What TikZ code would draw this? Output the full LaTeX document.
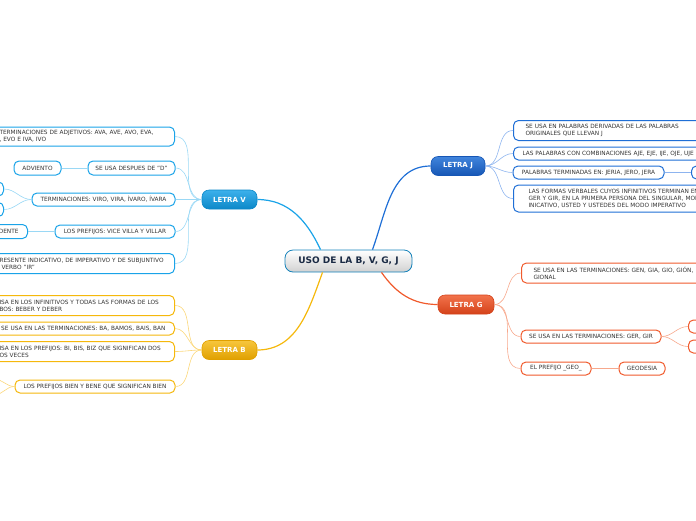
\documentclass[tikz,border=0pt]{standalone}
\usepackage{fontspec}
\setmainfont{DejaVu Sans}
\usetikzlibrary{positioning}
\definecolor{azulV}{HTML}{1AA3E8}
\definecolor{azulVd}{HTML}{0C88C8}
\definecolor{ramaVc}{HTML}{9AD8F5}
\definecolor{azulJ}{HTML}{1F6FD6}
\definecolor{azulJd}{HTML}{1656B5}
\definecolor{ramaJc}{HTML}{8DB4EF}
\definecolor{rojoG}{HTML}{F05A2C}
\definecolor{rojoGd}{HTML}{D4421A}
\definecolor{ramaGc}{HTML}{F7A88C}
\definecolor{oroB}{HTML}{F5B80C}
\definecolor{oroBd}{HTML}{E0A000}
\definecolor{ramaBc}{HTML}{FBD77A}
\definecolor{texto}{HTML}{333333}
\definecolor{tinta}{HTML}{1A2A44}
\tikzset{
  hoja/.style={draw, rounded corners=5pt, line width=1pt, fill=white, text=texto,
    font=\fontsize{5.8}{7}\selectfont, inner xsep=8pt, inner ysep=2pt, align=left},
  hojaV/.style={hoja, draw=azulV},
  hojaJ/.style={hoja, draw=azulJ},
  hojaG/.style={hoja, draw=rojoG},
  hojaB/.style={hoja, draw=oroB},
  letra/.style={rounded corners=7pt, text=white, font=\bfseries\fontsize{7}{8}\selectfont,
    minimum height=19pt, line width=0.6pt},
  ramaV/.style={draw=ramaVc, line width=0.6pt},
  ramaJ/.style={draw=ramaJc, line width=0.6pt},
  ramaG/.style={draw=ramaGc, line width=0.6pt},
  ramaB/.style={draw=ramaBc, line width=0.6pt},
}
\begin{document}
\begin{tikzpicture}[x=1pt,y=-1pt]
\useasboundingbox (0,0) rectangle (696,520);
\clip (0,0) rectangle (696,520);

\node[draw=azulV!80!black, line width=0.8pt, rounded corners=8pt, top color=white, bottom color=black!18,
  text=tinta, font=\bfseries\fontsize{9}{10}\selectfont, minimum width=127pt, minimum height=22pt]
  (centro) at (348.5,261) {USO DE LA B, V, G, J};

\node[letra, draw=azulVd, top color=azulV!85!white, bottom color=azulVd, minimum width=55pt] (letraV) at (229.5,199.5) {LETRA V};
\node[letra, draw=azulJd, top color=azulJ!85!white, bottom color=azulJd, minimum width=54pt] (letraJ) at (458,166) {LETRA J};
\node[letra, draw=rojoGd, top color=rojoG!85!white, bottom color=rojoGd, minimum width=56pt] (letraG) at (466,304.5) {LETRA G};
\node[letra, draw=oroBd, top color=oroB!80!white, bottom color=oroBd, minimum width=55pt] (letraB) at (229.5,350) {LETRA B};

\draw[draw=azulV, line width=1.2pt] (letraV.east) to[out=0,in=115] ([xshift=-28pt]centro.north);
\draw[draw=azulJ, line width=1.2pt] ([xshift=24pt]centro.north) to[out=70,in=180] (letraJ.west);
\draw[draw=rojoG, line width=1.2pt] ([xshift=33pt]centro.south) to[out=-55,in=180] (letraG.west);
\draw[draw=oroB, line width=1.2pt] ([xshift=-26pt]centro.south) to[out=-110,in=0] (letraB.east);

\node[hojaV, anchor=east, text width=167pt, minimum height=19pt] (v1) at (175,136.5)
  {TERMINACIONES DE ADJETIVOS: AVA, AVE, AVO, EVA,\\, EVO E IVA, IVO};
\node[hojaV, align=center, minimum width=87pt, minimum height=14pt, inner xsep=2pt] (v2) at (131.5,168) {SE USA DESPUES DE "D"};
\node[hojaV, align=center, minimum width=47pt, minimum height=14pt, inner xsep=2pt] (v2a) at (37.5,168) {ADVIENTO};
\node[hojaV, align=center, minimum width=143pt, minimum height=13pt, inner xsep=2pt] (v3) at (103.5,199.5) {TERMINACIONES: VIRO, VIRA, ÍVARO, ÍVARA};
\node[hojaV, anchor=east, minimum width=40pt, minimum height=14pt] (v3a) at (4,189) {};
\node[hojaV, anchor=east, minimum width=40pt, minimum height=14pt] (v3b) at (4,209.5) {};
\node[hojaV, align=center, minimum width=120pt, minimum height=13pt, inner xsep=2pt] (v4) at (115,231.5) {LOS PREFIJOS: VICE VILLA Y VILLAR};
\node[hojaV, anchor=east, align=right, text width=40pt, inner xsep=9pt, minimum height=14pt] (v4a) at (28,231.5) {DENTE};
\node[hojaV, anchor=east, text width=167pt, minimum height=20pt] (v5) at (175,263.5)
  {RESENTE INDICATIVO, DE IMPERATIVO Y DE SUBJUNTIVO\\\hspace*{2pt}VERBO "IR"};

\draw[ramaV] (letraV.west) to[out=180,in=0] (v1.east);
\draw[ramaV] (letraV.west) to[out=180,in=0] (v2.east);
\draw[ramaV] (letraV.west) to[out=180,in=0] (v3.east);
\draw[ramaV] (letraV.west) to[out=180,in=0] (v4.east);
\draw[ramaV] (letraV.west) to[out=180,in=0] (v5.east);
\draw[ramaV] (v2.west) -- (v2a.east);
\draw[ramaV] (v3.west) to[out=180,in=0] (v3a.east);
\draw[ramaV] (v3.west) to[out=180,in=0] (v3b.east);
\draw[ramaV] (v4.west) -- (v4a.east);

\node[hojaB, anchor=east, text width=167pt, minimum height=20pt] (b1) at (175,305.5)
  {ISA EN LOS INFINITIVOS Y TODAS LAS FORMAS DE LOS\\BOS: BEBER Y DEBER};
\node[hojaB, anchor=east, align=right, text width=175pt, inner xsep=9pt, minimum height=13pt] (b2) at (175,328.5)
  {SE USA EN LAS TERMINACIONES: BA, BAMOS, BAIS, BAN};
\node[hojaB, anchor=east, text width=167pt, minimum height=20pt] (b3) at (175,351.5)
  {ISA EN LOS PREFIJOS: BI, BIS, BIZ QUE SIGNIFICAN DOS\\OS VECES};
\node[hojaB, align=center, minimum width=160pt, minimum height=13pt, inner xsep=2pt] (b4) at (95,386.5)
  {LOS PREFIJOS BIEN Y BENE QUE SIGNIFICAN BIEN};
\coordinate (b4a) at (-6,379);
\coordinate (b4b) at (-6,395);

\draw[ramaB] (letraB.west) to[out=180,in=0] (b1.east);
\draw[ramaB] (letraB.west) to[out=180,in=0] (b2.east);
\draw[ramaB] (letraB.west) to[out=180,in=0] (b3.east);
\draw[ramaB] (letraB.west) to[out=180,in=0] (b4.east);
\draw[ramaB] (b4.west) to[out=180,in=0] (b4a);
\draw[ramaB] (b4.west) to[out=180,in=0] (b4b);

\node[hojaJ, anchor=west, text width=240pt, inner xsep=12pt, minimum height=20pt] (j1) at (513,130.5)
  {SE USA EN PALABRAS DERIVADAS DE LAS PALABRAS\\ORIGINALES QUE LLEVAN J};
\node[hojaJ, anchor=west, text width=240pt, inner xsep=9pt, minimum height=13pt] (j2) at (513,153.5)
  {LAS PALABRAS CON COMBINACIONES AJE, EJE, IJE, OJE, UJE};
\node[hojaJ, align=center, minimum width=151pt, minimum height=13pt, inner xsep=2pt] (j3) at (588.5,172.5)
  {PALABRAS TERMINADAS EN: JERIA, JERO, JERA};
\node[hojaJ, anchor=west, minimum width=40pt, minimum height=13pt] (j3a) at (691,172.5) {};
\node[hojaJ, anchor=west, text width=240pt, inner xsep=15pt, minimum height=27pt] (j4) at (513,198.5)
  {LAS FORMAS VERBALES CUYOS INFINITIVOS TERMINAN EN\\GER Y GIR, EN LA PRIMERA PERSONA DEL SINGULAR, MODO\\INICATIVO, USTED Y USTEDES DEL MODO IMPERATIVO};

\draw[ramaJ] (letraJ.east) to[out=0,in=180] (j1.west);
\draw[ramaJ] (letraJ.east) to[out=0,in=180] (j2.west);
\draw[ramaJ] (letraJ.east) to[out=0,in=180] (j3.west);
\draw[ramaJ] (letraJ.east) to[out=0,in=180] (j4.west);
\draw[ramaJ, line width=1.2pt] (j3.east) -- (j3a.west);

\node[hojaG, anchor=west, text width=240pt, inner xsep=12pt, minimum height=20pt] (g1) at (521,273)
  {SE USA EN LAS TERMINACIONES: GEN, GIA, GIO, GIÓN,\\GIONAL};
\node[hojaG, align=center, minimum width=140pt, minimum height=13pt, inner xsep=2pt] (g2) at (591,336.5)
  {SE USA EN LAS TERMINACIONES: GER, GIR};
\node[hojaG, anchor=west, minimum width=40pt, minimum height=13pt] (g2a) at (688,326.5) {};
\node[hojaG, anchor=west, minimum width=40pt, minimum height=13pt] (g2b) at (688,346.5) {};
\node[hojaG, align=center, minimum width=70pt, minimum height=13pt, inner xsep=2pt] (g3) at (556,368.5) {EL PREFIJO \_GEO\_};
\node[hojaG, align=center, minimum width=46pt, minimum height=13pt, inner xsep=2pt] (g3a) at (642,368.5) {GEODESIA};

\draw[ramaG] (letraG.east) to[out=0,in=180] (g1.west);
\draw[ramaG] (letraG.east) to[out=0,in=180] (g2.west);
\draw[ramaG] (letraG.east) to[out=0,in=180] (g3.west);
\draw[ramaG] (g2.east) to[out=0,in=180] (g2a.west);
\draw[ramaG] (g2.east) to[out=0,in=180] (g2b.west);
\draw[ramaG] (g3.east) -- (g3a.west);
\end{tikzpicture}
\end{document}
